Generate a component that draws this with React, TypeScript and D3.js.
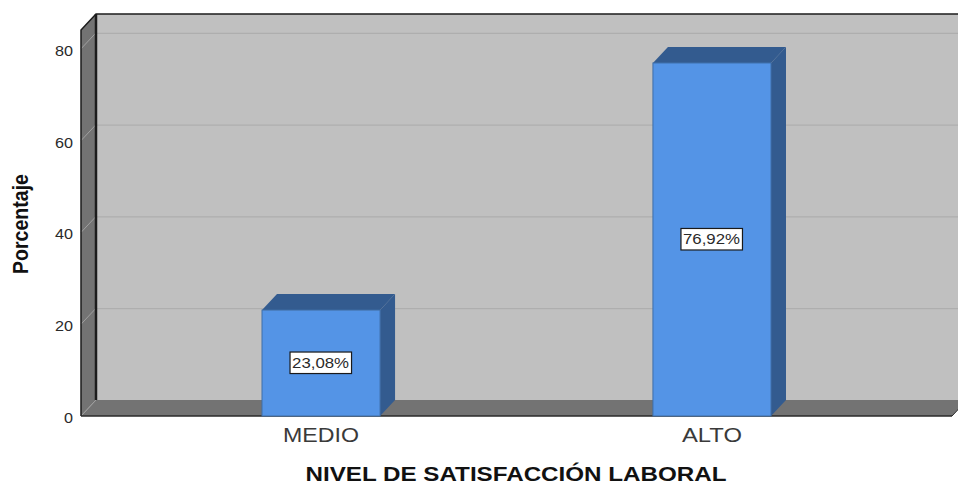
import React from "react";
import * as d3 from "d3";

const categories = ["MEDIO", "ALTO"];
const values = [23.08, 76.92];
const valueLabels = ["23,08%", "76,92%"];
const yTicks = [0, 20, 40, 60, 80];

const width = 958;
const height = 484;
const depthX = 15;
const depthY = 16;

const yScale = d3.scaleLinear().domain([0, 84.1]).range([416, 30]);
const xScale = d3
  .scaleBand<string>()
  .domain(categories)
  .range([81, 952])
  .paddingInner(0.698)
  .paddingOuter(0.463);

const pts = (p: [number, number][]) => p.map((d) => d.join(",")).join(" ");

const font = "Liberation Sans";

export default function App() {
  const left = 81;
  const right = 952;
  const y0 = yScale(0);
  const yTop = yScale(84.1);

  return (
    <svg
      width={width}
      height={height}
      style={{ position: "absolute", left: 0, top: 0, background: "#fff" }}
    >
      {/* back wall */}
      <rect x={left + depthX} y={yTop - depthY} width={right - left} height={y0 - yTop} fill="#c0c0c0" />
      {/* left wall */}
      <polygon
        points={pts([
          [left, y0],
          [left, yTop],
          [left + depthX, yTop - depthY],
          [left + depthX, y0 - depthY],
        ])}
        fill="#737373"
      />
      {/* floor */}
      <polygon
        points={pts([
          [left, y0],
          [left + depthX, y0 - depthY],
          [right + depthX, y0 - depthY],
          [right, y0],
        ])}
        fill="#737373"
      />

      {yTicks.map((t) => (
        <g key={t}>
          {t > 0 && (
            <line
              x1={left + depthX}
              x2={right + depthX}
              y1={yScale(t) - depthY + 0.5}
              y2={yScale(t) - depthY + 0.5}
              stroke="#aaaaaa"
              strokeWidth={1}
            />
          )}
          <line
            x1={left}
            x2={left + depthX}
            y1={yScale(t)}
            y2={yScale(t) - depthY}
            stroke="#a0a0a0"
            strokeWidth={1}
          />
          <text
            x={73}
            y={yScale(t) + 7}
            textAnchor="end"
            fontFamily={font}
            fontSize={14}
            fill="#2a2a2a"
            textLength={String(t).length * 9}
            lengthAdjust="spacingAndGlyphs"
          >
            {t}
          </text>
        </g>
      ))}

      {/* box edges */}
      <path
        d={`M${left},${y0}V${yTop}L${left + depthX},${yTop - depthY}H${width}`}
        fill="none"
        stroke="#1c1c1c"
        strokeWidth={1.5}
      />
      <line
        x1={left + depthX}
        x2={left + depthX}
        y1={yTop - depthY}
        y2={y0 - depthY}
        stroke="#1c1c1c"
        strokeWidth={2.5}
      />
      <line x1={left} x2={right} y1={y0} y2={y0} stroke="#2a2a2a" strokeWidth={1.5} />
      <line x1={right} x2={right + depthX} y1={y0} y2={y0 - depthY} stroke="#2a2a2a" strokeWidth={1} />

      {categories.map((c, i) => {
        const x = xScale(c) as number;
        const w = xScale.bandwidth();
        const top = yScale(values[i]);
        const cx = x + w / 2;
        const cy = (top + y0) / 2;
        return (
          <g key={c}>
            <polygon
              points={pts([
                [x + w, y0],
                [x + w, top],
                [x + w + depthX, top - depthY],
                [x + w + depthX, y0 - depthY],
              ])}
              fill="#335b8f"
            />
            <polygon
              points={pts([
                [x, top],
                [x + depthX, top - depthY],
                [x + w + depthX, top - depthY],
                [x + w, top],
              ])}
              fill="#335b8f"
            />
            <rect x={x} y={top} width={w} height={y0 - top} fill="#5494e6" stroke="#3f6ea8" strokeWidth={1} />
            <rect x={cx - 31} y={cy - 11} width={61.5} height={21.5} fill="#fff" stroke="#1a1a1a" strokeWidth={1.2} />
            <text
              x={cx - 0.5}
              y={cy + 5}
              textAnchor="middle"
              fontFamily={font}
              fontSize={14}
              fill="#2a2a2a"
              textLength={57}
              lengthAdjust="spacingAndGlyphs"
            >
              {valueLabels[i]}
            </text>
            <text
              x={cx}
              y={442}
              textAnchor="middle"
              fontFamily={font}
              fontSize={19.5}
              fill="#3a3a3a"
              textLength={c.length === 5 ? 76 : 60}
              lengthAdjust="spacingAndGlyphs"
            >
              {c}
            </text>
          </g>
        );
      })}

      <text
        x={516}
        y={481}
        textAnchor="middle"
        fontFamily={font}
        fontWeight="bold"
        fontSize={20}
        fill="#111"
        textLength={421}
        lengthAdjust="spacingAndGlyphs"
      >
        NIVEL DE SATISFACCIÓN LABORAL
      </text>
      <text
        transform="translate(28,224) rotate(-90)"
        textAnchor="middle"
        fontFamily={font}
        fontWeight="bold"
        fontSize={22}
        fill="#111"
        textLength={100}
        lengthAdjust="spacingAndGlyphs"
      >
        Porcentaje
      </text>
    </svg>
  );
}
